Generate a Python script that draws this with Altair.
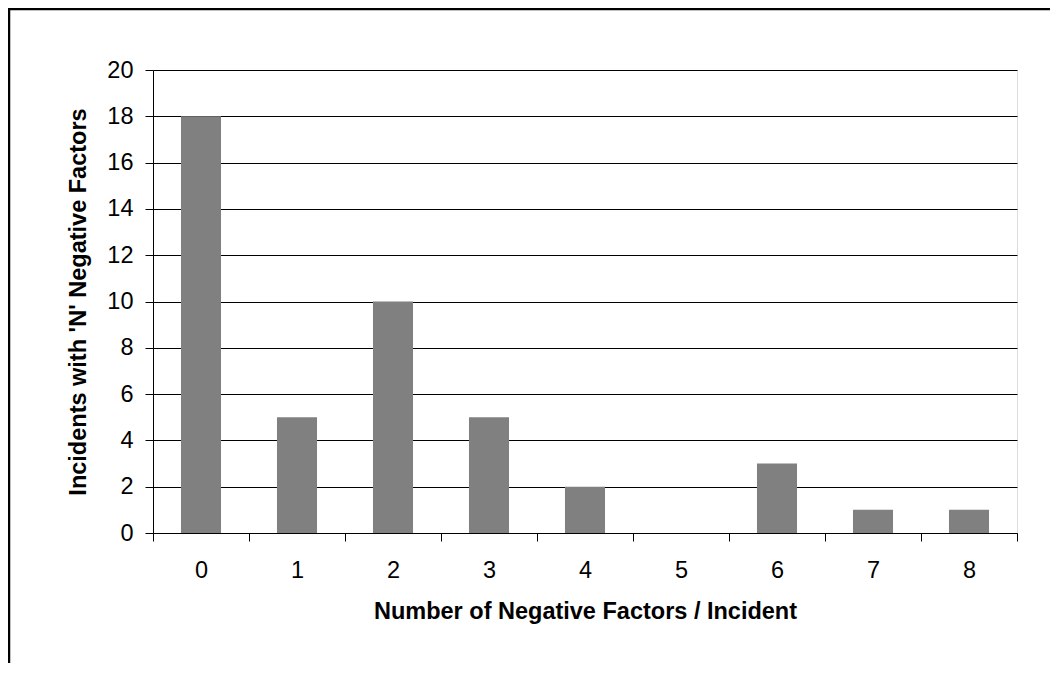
import altair as alt
import pandas as pd

categories = ["0", "1", "2", "3", "4", "5", "6", "7", "8"]
counts = [18, 5, 10, 5, 2, 0, 3, 1, 1]
y_ticks = list(range(0, 21, 2))

df = pd.DataFrame({"n": categories, "count": counts})

FONT = "Liberation Sans"
FS = 23.5
W, H = 864, 463
PL, PT, PR, PB = 145, 62, 33, 130

bars = alt.Chart(df).mark_bar(
    color="#808080", width=alt.RelativeBandSize(0.417)
).encode(
    x=alt.X(
        "n:N",
        sort=categories,
        scale=alt.Scale(paddingInner=0, paddingOuter=0),
        axis=alt.Axis(
            title="Number of Negative Factors / Incident",
            labelAngle=0,
            tickBand="extent",
            tickSize=8,
            tickColor="black",
            domainColor="black",
            labelFontSize=FS,
            labelFont=FONT,
            labelColor="black",
            labelPadding=17,
            titleFont=FONT,
            titleFontSize=FS,
            titleFontWeight="bold",
            titleColor="black",
            titlePadding=18,
        ),
    ),
    y=alt.Y(
        "count:Q",
        scale=alt.Scale(domain=[0, 20], nice=False),
        axis=alt.Axis(
            title="Incidents with 'N' Negative Factors",
            values=y_ticks,
            grid=True,
            gridColor="black",
            gridOpacity=1,
            gridWidth=1,
            tickSize=8,
            tickColor="black",
            domainColor="black",
            labelFontSize=FS,
            labelFont=FONT,
            labelColor="black",
            labelPadding=12,
            titleFont=FONT,
            titleFontSize=FS,
            titleFontWeight="bold",
            titleColor="black",
            titlePadding=16,
        ),
    ),
)

frame = alt.Chart(pd.DataFrame({"a": [0]})).mark_rect(
    filled=False, stroke="black", strokeWidth=2.5
).encode(
    x=alt.value(-144),
    x2=alt.value(W + PR + 40),
    y=alt.value(-61),
    y2=alt.value(H + PB + 60),
)

chart = alt.layer(frame, bars).properties(
    width=W,
    height=H,
    autosize=alt.AutoSizeParams(type="none"),
    padding={"left": PL, "top": PT, "right": PR, "bottom": PB},
).configure_view(
    stroke="#808080", strokeWidth=2
).configure(background="white")

chart.save("out.html", embed_options={"renderer": "svg", "actions": False})
